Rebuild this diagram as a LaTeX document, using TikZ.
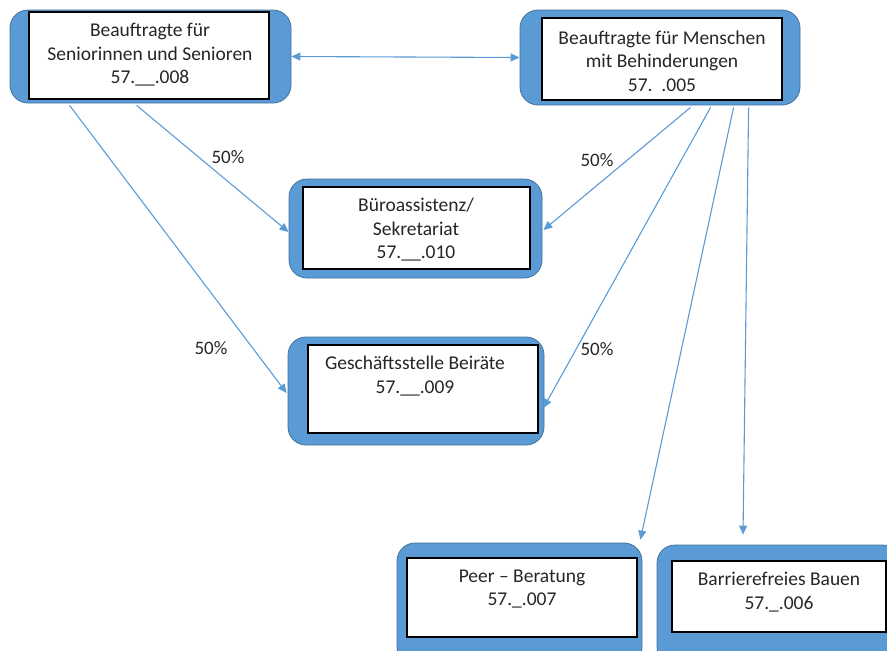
\documentclass[tikz,border=0pt]{standalone}
\usepackage{fontspec}
\setmainfont{Carlito}
\usetikzlibrary{arrows.meta}
\definecolor{boxblue}{HTML}{5B9BD5}
\definecolor{boxedge}{HTML}{41719C}
\definecolor{txt}{HTML}{262626}
\begin{document}
\begin{tikzpicture}[x=1pt,y=-1pt,
  outer/.style={draw=boxedge,line width=0.8pt,fill=boxblue,rounded corners=18pt,inner sep=0pt},
  inner/.style={draw=black,line width=1.2pt,fill=white,inner sep=0pt},
  lbl/.style={align=center,text=txt,font=\fontsize{19.5}{23.5}\selectfont,inner sep=0pt},
  pct/.style={text=txt,font=\fontsize{19}{22}\selectfont,inner sep=0pt},
  conn/.style={draw=boxblue,line width=1.1pt,-{Triangle[length=9pt,width=8pt]}},
  dconn/.style={draw=boxblue,line width=1.1pt,{Triangle[length=9pt,width=8pt]}-{Triangle[length=9pt,width=8pt]}}
]
\useasboundingbox (0,0) rectangle (887,651);
\clip (0,0) rectangle (887,651);
% outer boxes
\node[outer,minimum width=281pt,minimum height=93pt] (b1) at (150.5,56.5) {};
\node[outer,minimum width=280pt,minimum height=95pt] (b2) at (660,57.5) {};
\node[outer,minimum width=253pt,minimum height=99pt] (b3) at (415.5,228.5) {};
\node[outer,minimum width=256pt,minimum height=108pt] (b4) at (416,391) {};
\node[outer,minimum width=245pt,minimum height=122pt] (b5) at (519.5,604) {};
\node[outer,minimum width=243pt,minimum height=120pt] (b6) at (778.5,605) {};
% inner boxes
\node[inner,minimum width=240pt,minimum height=87pt] (i1) at (149,55.5) {};
\node[inner,minimum width=240pt,minimum height=82pt] (i2) at (662,59) {};
\node[inner,minimum width=227pt,minimum height=82pt] (i3) at (416.5,228) {};
\node[inner,minimum width=230pt,minimum height=88pt] (i4) at (423,389) {};
\node[inner,minimum width=230pt,minimum height=79pt] (i5) at (522,597.5) {};
\node[inner,minimum width=214pt,minimum height=71pt] (i6) at (779,596.5) {};
% texts
\node[lbl] (t1) at (150,55) {Beauftragte für\\Seniorinnen und Senioren\\57.\_\_.008};
\node[lbl] (t2) at (662,61) {Beauftragte für Menschen\\mit Behinderungen\\57.\ \ .005};
\node[lbl] (t3) at (416,230) {Büroassistenz/\\Sekretariat\\57.\_\_.010};
\node[lbl] (t4) at (415,376) {Geschäftsstelle Beiräte\\57.\_\_.009};
\node[lbl] (t5) at (522,589) {Peer – Beratung\\57.\_.007};
\node[lbl] (t6) at (779,592) {Barrierefreies Bauen\\57.\_.006};
% connectors
\draw[dconn] (b1.east) -- (b2.west);
\draw[conn] ([xshift=127pt,yshift=-2pt]b1.south west) -- ([yshift=-3.5pt]b3.west);
\draw[conn] ([xshift=60pt,yshift=-2pt]b1.south west) -- ([xshift=-1pt,yshift=-2pt]b4.west);
\draw[conn] ([xshift=171pt,yshift=-2pt]b2.south west) -- ([xshift=1pt,yshift=-1.5pt]b3.east);
\draw[conn] ([xshift=191pt,yshift=-2pt]b2.south west) -- ([xshift=-1pt,yshift=-17pt]b4.east);
\draw[conn] ([xshift=214pt,yshift=-2pt]b2.south west) -- ([xshift=-2pt,yshift=3pt]b5.north east);
\draw[conn] ([xshift=229pt,yshift=-2pt]b2.south west) -- ([xshift=-35.5pt,yshift=10pt]b6.north);
% percentages
\node[pct] (p1) at (228,157) {50\%};
\node[pct] (p2) at (211,348) {50\%};
\node[pct] (p3) at (597,160) {50\%};
\node[pct] (p4) at (597,349) {50\%};
\end{tikzpicture}
\end{document}
